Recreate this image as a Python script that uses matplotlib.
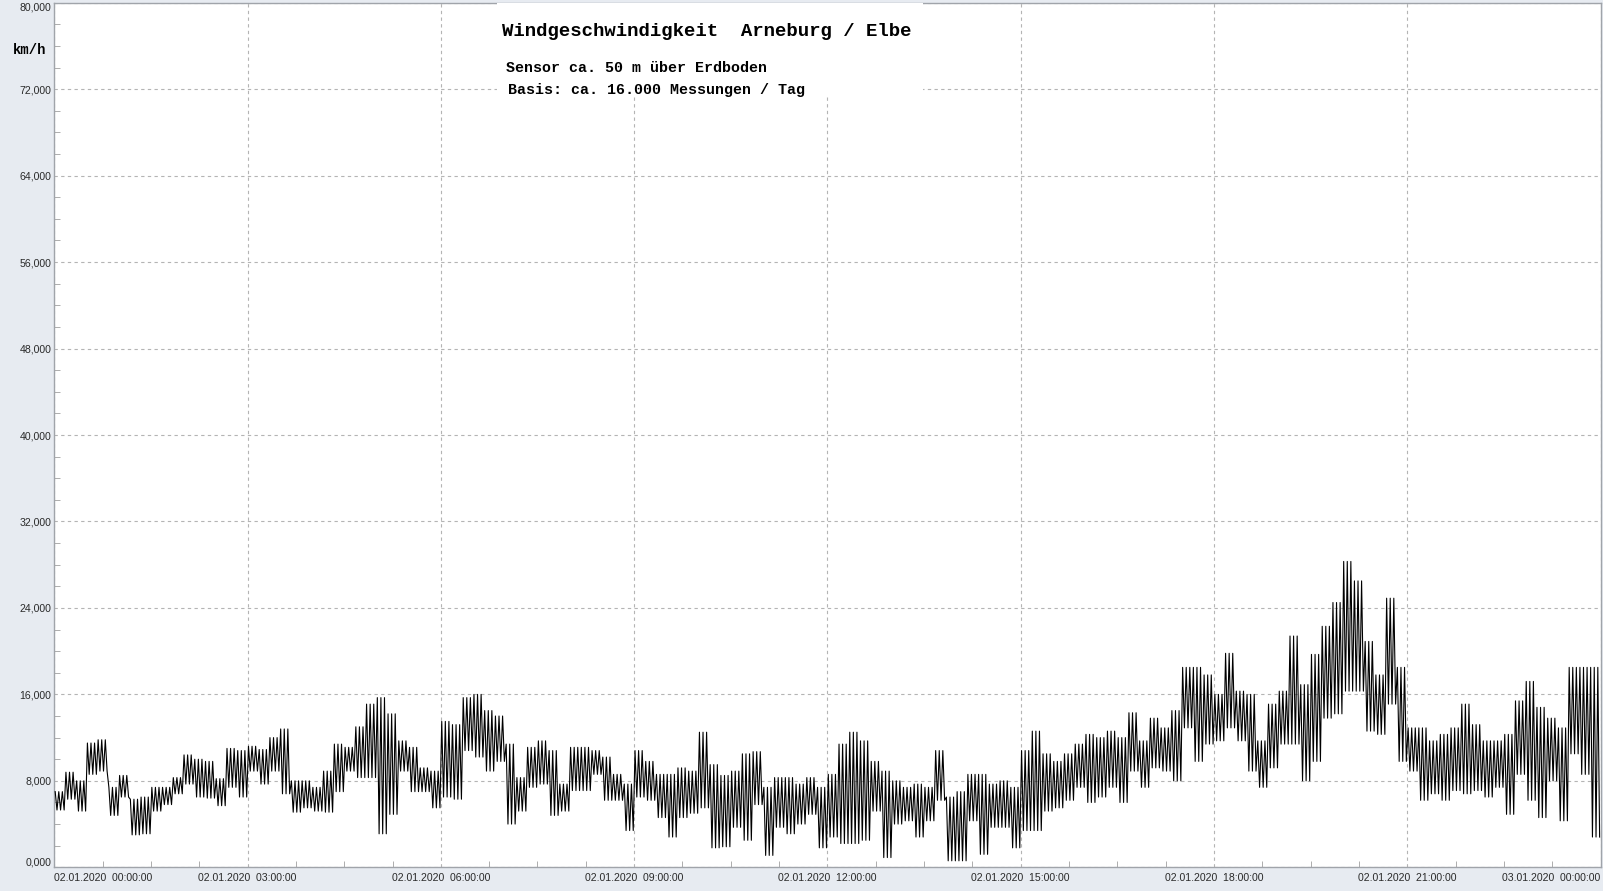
import matplotlib.pyplot as plt
from matplotlib.patches import Rectangle
from matplotlib.ticker import MultipleLocator

bin_low = [5.3, 6.3, 5.2, 8.6, 8.9, 4.8, 6.5, 3.0, 3.1, 5.2, 5.8, 6.8,
           7.7, 6.5, 6.4, 5.7, 7.4, 6.5, 8.9, 7.7, 8.9, 6.8, 5.1, 5.5,
           5.2, 5.1, 7.0, 8.9, 8.3, 8.3, 3.1, 4.9, 8.9, 7.0, 7.0, 5.5,
           6.5, 6.3, 10.8, 10.2, 8.9, 9.8, 4.0, 5.2, 7.4, 7.7, 4.8, 5.2,
           7.1, 7.1, 8.6, 6.2, 6.2, 3.4, 6.5, 6.2, 4.6, 2.8, 4.6, 5.0,
           5.5, 1.8, 1.9, 3.7, 2.5, 5.8, 1.1, 3.7, 3.1, 4.0, 4.9, 1.8,
           2.8, 2.2, 2.2, 2.5, 5.2, 0.9, 4.0, 4.3, 2.8, 4.3, 6.2, 0.6,
           0.6, 4.3, 1.2, 3.7, 3.7, 1.8, 3.4, 3.4, 5.2, 5.5, 6.2, 7.4,
           6.0, 6.5, 7.4, 6.0, 8.9, 7.4, 9.2, 8.9, 8.0, 12.9, 9.8, 11.4,
           11.7, 12.9, 11.7, 8.9, 7.4, 9.2, 11.4, 11.4, 8.0, 9.8, 13.8, 14.2,
           16.3, 16.3, 12.6, 12.3, 15.1, 9.8, 8.9, 6.2, 6.8, 6.2, 7.1, 6.8,
           7.1, 6.5, 7.4, 4.9, 8.6, 6.2, 4.6, 8.0, 4.3, 10.5, 8.6, 2.8]
bin_high = [7.0, 8.8, 8.0, 11.5, 11.8, 7.4, 8.5, 6.3, 6.5, 7.4, 7.4, 8.3,
            10.4, 10.0, 9.8, 8.2, 11.0, 10.8, 11.2, 10.9, 12.0, 12.8, 8.0, 8.0,
            7.4, 8.9, 11.4, 11.1, 13.0, 15.1, 15.7, 14.2, 11.7, 11.1, 9.2, 8.9,
            13.5, 13.2, 15.7, 16.0, 14.5, 14.0, 11.4, 8.3, 11.1, 11.7, 10.8, 7.7,
            11.1, 11.1, 10.8, 10.2, 8.6, 7.7, 10.8, 9.8, 8.6, 8.6, 9.2, 8.9,
            12.5, 9.5, 8.5, 8.9, 10.5, 10.7, 7.4, 8.3, 8.3, 7.7, 8.3, 7.4,
            8.6, 11.4, 12.5, 11.7, 9.8, 8.9, 8.0, 7.4, 7.7, 7.4, 10.8, 6.5,
            7.0, 8.6, 8.6, 7.7, 8.0, 7.4, 10.8, 12.6, 10.5, 9.8, 10.5, 11.4,
            12.3, 12.0, 12.6, 12.0, 14.3, 11.7, 13.8, 12.9, 14.5, 18.5, 18.5, 17.8,
            16.0, 19.8, 16.3, 16.0, 11.7, 15.1, 16.3, 21.4, 16.9, 19.7, 22.3, 24.5,
            28.3, 26.5, 20.9, 17.8, 24.9, 18.5, 12.9, 12.9, 11.7, 12.3, 12.9, 15.1,
            13.2, 11.7, 11.7, 12.3, 15.4, 17.2, 14.8, 13.8, 12.9, 18.5, 18.5, 18.5]

hour_ticks = [0, 3, 6, 9, 12, 15, 18, 21, 24]
hour_labels = ['02.01.2020  00:00:00', '02.01.2020  03:00:00', '02.01.2020  06:00:00',
               '02.01.2020  09:00:00', '02.01.2020  12:00:00', '02.01.2020  15:00:00',
               '02.01.2020  18:00:00', '02.01.2020  21:00:00', '03.01.2020  00:00:00']
speed_ticks = [0, 8, 16, 24, 32, 40, 48, 56, 64, 72, 80]
speed_labels = ['0,000', '8,000', '16,000', '24,000', '32,000', '40,000',
                '48,000', '56,000', '64,000', '72,000', '80,000']

title = 'Windgeschwindigkeit  Arneburg / Elbe'
sub1 = 'Sensor ca. 50 m über Erdboden'
sub2 = 'Basis: ca. 16.000 Messungen / Tag'
unit = 'km/h'

# the trace swings between the two edges a few times inside every bin
swings = 3
t, v = [], []
for k in range(len(bin_low)):
    for j in range(swings):
        t += [(k + (2 * j + 0.5) / (2 * swings)) / 6, (k + (2 * j + 1.5) / (2 * swings)) / 6]
        v += [bin_high[k], bin_low[k]]

W, H = 1603, 891
fig = plt.figure(figsize=(W / 100, H / 100), dpi=100, facecolor='#e7ebf1')
ax = fig.add_axes([54.3 / W, 1 - 867.3 / H, (1600.5 - 54.3) / W, (867.3 - 2.7) / H])
ax.set_facecolor('white')

ax.plot(t, v, color='black', lw=0.8, zorder=3)
ax.set_xlim(0, 24)
ax.set_ylim(0, 80)

ax.set_xticks(hour_ticks, hour_labels)
ax.set_yticks(speed_ticks, speed_labels)
ax.xaxis.set_minor_locator(MultipleLocator(0.75))
ax.yaxis.set_minor_locator(MultipleLocator(2))
ax.grid(True, which='major', color='#b4b4b4', linestyle=(0, (3, 3)), lw=0.8)
ax.tick_params(which='both', direction='in', color='#a0a0a0', labelcolor='#2a2a2a',
               labelsize=7.6)
ax.tick_params(which='major', length=0)
ax.tick_params(which='minor', length=4)
ax.tick_params(axis='x', pad=4)
ax.tick_params(axis='y', pad=2)
for lab in ax.get_xticklabels() + ax.get_yticklabels():
    lab.set_family('Liberation Sans')
xl = ax.get_xticklabels()
xl[0].set_ha('left')
xl[-1].set_ha('right')
yl = ax.get_yticklabels()
yl[0].set_va('bottom')
yl[-1].set_va('top')
for s in ax.spines.values():
    s.set_color('#a0a4aa')
    s.set_linewidth(1)

# white box behind the header text
fig.patches.append(Rectangle((497 / W, 1 - 97 / H), (923 - 497) / W, (97 - 3) / H,
                             transform=fig.transFigure, facecolor='white',
                             edgecolor='none', zorder=2))
fig.text(502 / W, 1 - 31 / H, title, family='Liberation Mono', weight='bold',
         size=13.7, va='center', ha='left', zorder=3)
fig.text(506 / W, 1 - 68.5 / H, sub1, family='Liberation Mono', weight='bold',
         size=10.8, va='center', ha='left', zorder=3)
fig.text(508 / W, 1 - 90 / H, sub2, family='Liberation Mono', weight='bold',
         size=10.8, va='center', ha='left', zorder=3)
fig.text(30 / W, 1 - 50 / H, unit, family='Liberation Mono', weight='bold',
         size=10, va='center', ha='center')

fig.savefig('out.png', dpi=100, facecolor=fig.get_facecolor())
